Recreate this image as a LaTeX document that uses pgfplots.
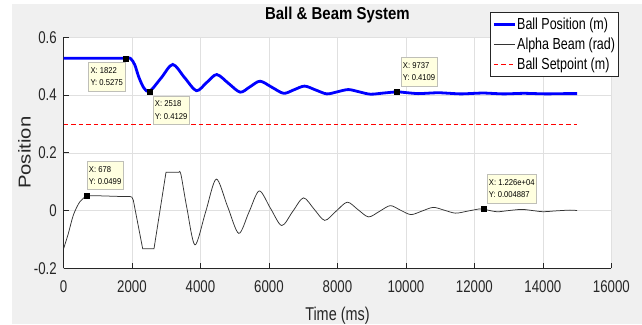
\documentclass[border=0pt]{standalone}
\usepackage{fontspec}
\setmainfont{Liberation Sans}[FakeStretch=0.78]
\newfontfamily\titlefont{Liberation Sans}[FakeStretch=0.87]
\newfontfamily\ylabfont{Liberation Sans}[FakeStretch=1.18]
\newfontfamily\tipfont{Liberation Sans}[FakeStretch=0.9]
\usepackage{pgfplots}
\pgfplotsset{compat=1.18}
\definecolor{figgray}{rgb}{0.94,0.94,0.94}
\definecolor{axcol}{rgb}{0.15,0.15,0.15}
\definecolor{gridcol}{rgb}{0.88,0.88,0.88}
\definecolor{tipbg}{rgb}{1,1,0.88}
\definecolor{tipborder}{rgb}{0.75,0.75,0.72}
\tikzset{tip/.style={draw=tipborder, fill=tipbg, line width=0.5pt, anchor=north west, align=left,
  inner xsep=2pt, inner ysep=5pt, font=\tipfont\fontsize{8.5}{12.3}\selectfont, text=black}}
\begin{document}
\begin{tikzpicture}
\fill[white] (0,0) rectangle (642pt,324pt);
\fill[figgray] (11.7pt,0) rectangle (642pt,319.7pt);
\begin{axis}[
  at={(63.5pt,55.7pt)}, anchor=south west, scale only axis,
  width=547.9pt, height=231pt,
  xmin=0, xmax=16000, ymin=-0.2, ymax=0.6,
  scaled x ticks=false, scaled y ticks=false,
  axis background/.style={fill=white},
  axis x line*=bottom, axis y line*=left,
  axis line style={axcol, line width=0.8pt},
  tick align=inside, major tick length=5pt,
  tick style={axcol, line width=0.8pt},
  xtick={0,2000,4000,6000,8000,10000,12000,14000,16000},
  xticklabels={0,2000,4000,6000,8000,10000,12000,14000,16000},
  ytick={-0.2,0,0.2,0.4,0.6},
  yticklabels={-0.2,0,0.2,0.4,0.6},
  grid=major, grid style={gridcol, line width=0.6pt},
  xticklabel style={font=\fontsize{17}{17}\selectfont, text=axcol, inner sep=0pt, anchor=north, yshift=-11.7pt},
  yticklabel style={font=\fontsize{17}{17}\selectfont, text=axcol, inner sep=0pt, anchor=east, xshift=-6.5pt},
  title={Ball \& Beam System},
  title style={at={(axis description cs:0.5,1)}, anchor=base, yshift=11.6pt, font=\titlefont\bfseries\fontsize{17.2}{17.2}\selectfont, text=black},
  xlabel={Time (ms)},
  xlabel style={at={(axis description cs:0.5,0)}, anchor=base, yshift=-51.7pt, font=\fontsize{18.5}{18.5}\selectfont, text=axcol},
  ylabel={Position},
  ylabel style={at={(axis description cs:-0.05987,0.5)}, anchor=base, font=\ylabfont\fontsize{17.2}{17.2}\selectfont, text=axcol},
  legend cell align=left,
  legend image code/.code={\draw[#1] (0pt,0pt) -- (21pt,0pt);},
  legend style={at={(axis description cs:0.7784,1.1095)}, anchor=north west, draw=axcol, line width=0.8pt, fill=white,
    font=\fontsize{16}{16}\selectfont, inner xsep=2pt, inner ysep=2pt, row sep=0pt,
    nodes={inner xsep=1pt, inner ysep=3.5pt}},
]
% Ball position
\addplot[blue, line width=2.8pt, smooth] coordinates {
(0,0.5275) (900,0.5275) (1822,0.5275) (1960,0.5262) (2080,0.505) (2200,0.462) (2350,0.424) (2518,0.4129)
(2854,0.4595) (3190,0.506) (3535,0.4605) (3880,0.415) (4178,0.443) (4475,0.471) (4818,0.4405)
(5160,0.410) (5450,0.429) (5740,0.448) (6085,0.427) (6430,0.406) (6735,0.4185) (7040,0.431)
(7365,0.4175) (7690,0.404) (8005,0.4115) (8320,0.419) (8640,0.411) (8960,0.403) (9350,0.407)
(9737,0.4109) (10040,0.408) (10350,0.405) (10650,0.4065) (10950,0.408) (11275,0.406) (11600,0.404)
(11925,0.4055) (12250,0.407) (12550,0.4055) (12850,0.404) (13150,0.405) (13450,0.406) (13775,0.405)
(14100,0.404) (14400,0.4045) (14700,0.405) (15000,0.405)
};
\addlegendentry{Ball Position (m)}
% Alpha beam
\addplot[black!80, line width=0.75pt, smooth] coordinates {
(0,-0.133) (140,-0.08) (290,-0.015) (480,0.031) (678,0.0499) (850,0.0515) (1200,0.0505) (1600,0.049) (1950,0.0485)
};
\addlegendentry{Alpha Beam (rad)}
\addplot[red, line width=0.8pt, dash pattern=on 4.5pt off 3pt] coordinates {(0,0.3) (15000,0.3)};
\addlegendentry{Ball Setpoint (m)}
\addplot[black!80, line width=0.75pt, forget plot] coordinates {
(1950,0.0485) (2000,0.046) (2040,0.035) (2312,-0.132) (2643,-0.132) (2993,0.1325) (3373,0.1325)
};
\addplot[black!80, line width=0.75pt, smooth, forget plot] coordinates {
(3373,0.1325) (3430,0.125) (3606,0.007) (3840,-0.119) (4150,-0.005) (4460,0.109) (4788,0.015)
(5117,-0.079) (5416,-0.0055) (5715,0.068) (6043,0.008) (6372,-0.052) (6689,-0.004) (7006,0.044)
(7317,0.005) (7628,-0.034) (7957,-0.0025) (8287,0.029) (8596,0.0035) (8906,-0.022) (9225,-0.003)
(9543,0.017) (9845,0.001) (10148,-0.014) (10474,-0.0015) (10800,0.011) (11125,0.001) (11450,-0.009)
(11800,-0.002) (12150,0.0058) (12260,0.004887) (12650,-0.004) (13000,0.0) (13380,0.004) (13700,0.0)
(14000,-0.004) (14400,-0.001) (14790,0.0015) (15000,0.0)
};
% data tip markers
\addplot[only marks, mark=square*, mark size=2.5pt, black, forget plot] coordinates {
(1822,0.5275) (2518,0.4129) (9737,0.4109) (678,0.0499) (12260,0.004887)
};
\node[tip] at (axis cs:724,0.5134) {X: 1822\\Y: 0.5275};
\node[tip] at (axis cs:2605,0.3978) {X: 2518\\Y: 0.4129};
\node[tip] at (axis cs:9846,0.5307) {X: 9737\\Y: 0.4109};
\node[tip] at (axis cs:677,0.1716) {X: 678\\Y: 0.0499};
\node[tip] at (axis cs:12357,0.1256) {X: 1.226e+04\\Y: 0.004887};
\end{axis}
\pgfresetboundingbox
\useasboundingbox (0,0) rectangle (642pt,324pt);
\end{tikzpicture}
\end{document}
